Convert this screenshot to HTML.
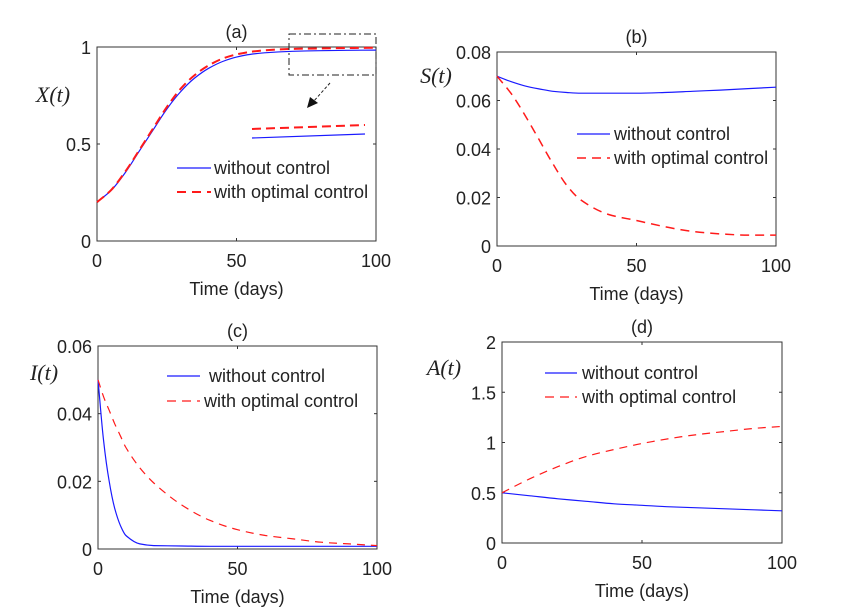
<!DOCTYPE html>
<html><head><meta charset="utf-8"><style>
html,body{margin:0;padding:0;background:#fff;}
svg{display:block;font-family:"Liberation Sans",sans-serif;}
</style></head><body>
<svg id="fig" width="846" height="608" viewBox="0 0 846 608" xmlns="http://www.w3.org/2000/svg"></svg>
<script>
const NS="http://www.w3.org/2000/svg";
// ---- data ----
const tA=[0,5,10,15,20,25,30,35,40,45,50,55,60,70,80,90,100];
const xBlue=[0.2,0.26,0.35,0.46,0.57,0.68,0.77,0.84,0.89,0.925,0.948,0.962,0.97,0.978,0.981,0.983,0.984];
const xRed=[0.2,0.262,0.355,0.465,0.578,0.69,0.785,0.855,0.905,0.94,0.962,0.975,0.983,0.99,0.993,0.995,0.996];
const tB=[0,5,10,15,20,25,30,40,50,60,70,80,90,100];
const sBlue=[0.07,0.0678,0.066,0.0648,0.0638,0.0633,0.063,0.063,0.063,0.0633,0.0638,0.0643,0.0649,0.0655];
const sRed=[0.07,0.063,0.054,0.044,0.034,0.025,0.019,0.013,0.0105,0.008,0.006,0.005,0.0045,0.0045];
const tC=[0,2,4,6,8,10,15,20,30,40,50,60,70,80,90,100];
const iBlue=[0.05,0.032,0.02,0.012,0.007,0.004,0.0015,0.001,0.0009,0.0008,0.0008,0.0008,0.0008,0.0008,0.0008,0.0008];
const iRed=[0.05,0.045,0.041,0.037,0.0335,0.030,0.024,0.0195,0.013,0.0085,0.0057,0.004,0.003,0.002,0.0015,0.001];
const tD=[0,10,20,30,40,50,60,70,80,90,100];
const aBlue=[0.5,0.47,0.44,0.415,0.39,0.375,0.36,0.35,0.34,0.33,0.32];
const aRed=[0.5,0.64,0.76,0.86,0.93,0.99,1.04,1.08,1.11,1.14,1.16];
const xTicks=[0,50,100];
const ticksA=[0,0.5,1], labA=["0","0.5","1"];
const ticksB=[0,0.02,0.04,0.06,0.08], labB=["0","0.02","0.04","0.06","0.08"];
const ticksC=[0,0.02,0.04,0.06], labC=["0","0.02","0.04","0.06"];
const ticksD=[0,0.5,1,1.5,2], labD=["0","0.5","1","1.5","2"];
const svg=document.getElementById('fig');
function el(tag,attrs,parent){const e=document.createElementNS(NS,tag);for(const k in attrs)e.setAttribute(k,attrs[k]);(parent||svg).appendChild(e);return e;}
function txt(s,x,y,attrs,parent){const e=el('text',Object.assign({x:x,y:y,'font-size':18,fill:'#222'},attrs),parent);e.textContent=s;return e;}
// monotone cubic path through pixel points
function mpath(xs,ys){
  const n=xs.length,d=[],m=[];
  for(let i=0;i<n-1;i++)d.push((ys[i+1]-ys[i])/(xs[i+1]-xs[i]));
  m[0]=d[0];m[n-1]=d[n-2];
  for(let i=1;i<n-1;i++)m[i]=(d[i-1]*d[i]<=0)?0:(3*(d[i-1]+d[i]))/((2*d[i]+d[i-1])/d[i-1]*0+ (1/d[i-1]+1/d[i])*1.5*d[i-1]*d[i]/ (d[i-1]*d[i]) *2)/3;
  for(let i=1;i<n-1;i++)m[i]=(d[i-1]*d[i]<=0)?0:2/(1/d[i-1]+1/d[i]);
  let p='M'+xs[0].toFixed(1)+' '+ys[0].toFixed(1);
  for(let i=0;i<n-1;i++){const h=xs[i+1]-xs[i];
    p+=' C'+(xs[i]+h/3).toFixed(1)+' '+(ys[i]+m[i]*h/3).toFixed(1)+' '+(xs[i+1]-h/3).toFixed(1)+' '+(ys[i+1]-m[i+1]*h/3).toFixed(1)+' '+xs[i+1].toFixed(1)+' '+ys[i+1].toFixed(1);}
  return p;
}
function panel(id,L,R,T,B,ymax,yt,yl,title,ylab,series,leg){
  const g=el('g',{});
  
  
  const sx=v=>L+(R-L)*v/100, sy=v=>B-(B-T)*v/ymax;
  const fr=el('rect',{x:L,y:T,width:R-L,height:B-T,fill:'none',stroke:'#333','stroke-width':1},g);
  
  
  xTicks.forEach(v=>{const x=sx(v);
    el('line',{x1:x,x2:x,y1:B,y2:B-3,stroke:'#333'},g);el('line',{x1:x,x2:x,y1:T,y2:T+3,stroke:'#333'},g);
    const t=txt(String(v),x,B+26,{'text-anchor':'middle'},g);
    
    });
  yt.forEach((v,i)=>{const y=sy(v);
    el('line',{x1:L,x2:L+3,y1:y,y2:y,stroke:'#333'},g);el('line',{x1:R,x2:R-3,y1:y,y2:y,stroke:'#333'},g);
    const t=txt(yl[i],L-6,y+7,{'text-anchor':'end'},g);
    
    });
  const tt=txt(title,(L+R)/2,T-9,{'text-anchor':'middle'},g);
  
  
  const xl=txt('Time (days)',(L+R)/2,B+54,{'text-anchor':'middle'},g);
  
  
  const yy=txt(ylab[0],ylab[1],ylab[2],{'text-anchor':'middle','font-family':'"Liberation Serif",serif','font-style':'italic','font-size':22},g);
  
  
  series.forEach(s=>{
    const d=mpath(s.t.map(sx),s.v.map(sy));
    const p=el('path',{d:d,fill:'none',stroke:s.c,'stroke-width':s.w,'stroke-dasharray':s.dash||'none'},g);
    
    
  });
  [['without control','#1a1aff',null,1.2],['with optimal control','#ff1a1a','9,6',leg.rw]].forEach((e,i)=>{
    const y=leg.y[i];
    const lg=el('g',{},g);
    
    
    el('line',{x1:leg.x1,x2:leg.x2,y1:y,y2:y,stroke:e[1],'stroke-width':e[3],'stroke-dasharray':e[2]||'none'},lg);
    txt(e[0],leg.tx[i],y+6,{},lg);
  });
  return {g,sx,sy};
}
const pa=panel('a',97,376,47,241,1,ticksA,labA,'(a)',['X(t)',53,102],
 [{t:tA,v:xBlue,c:'#1a1aff',w:1.2,name:'series-without-control'},{t:tA,v:xRed,c:'#ff1a1a',w:2,dash:'9,5',name:'series-optimal-control'}],
 {x1:177,x2:211,y:[168,192],tx:[214,214],rw:2});
const zb=el('rect',{x:289,y:34,width:87,height:41,fill:'none',stroke:'#222','stroke-dasharray':'7,3,2,3'},pa.g);


const ar=el('line',{x1:330,y1:83,x2:313,y2:102,stroke:'#222','stroke-dasharray':'3,2'},pa.g);


el('polygon',{points:'307,108 310,97 318,103',fill:'#111'},pa.g);
const ib=el('line',{x1:252,y1:138,x2:365,y2:134,stroke:'#1a1aff','stroke-width':1.2},pa.g);


const ir=el('line',{x1:252,y1:129,x2:365,y2:125,stroke:'#ff1a1a','stroke-width':2,'stroke-dasharray':'9,5'},pa.g);



panel('b',497,776,52,246,0.08,ticksB,labB,'(b)',['S(t)',436,83],
 [{t:tB,v:sBlue,c:'#1a1aff',w:1.2,name:'series-without-control'},{t:tB,v:sRed,c:'#ff1a1a',w:1.5,dash:'9,6',name:'series-optimal-control'}],
 {x1:577,x2:610,y:[134,158],tx:[614,614],rw:1.5});
panel('c',98,377,346,549,0.06,ticksC,labC,'(c)',['I(t)',44,380],
 [{t:tC,v:iBlue,c:'#1a1aff',w:1.2,name:'series-without-control'},{t:tC,v:iRed,c:'#ff1a1a',w:1.2,dash:'8,6',name:'series-optimal-control'}],
 {x1:167,x2:200,y:[376,401],tx:[209,204],rw:1.2});
panel('d',502,782,342,543,2,ticksD,labD,'(d)',['A(t)',444,375],
 [{t:tD,v:aBlue,c:'#1a1aff',w:1.2,name:'series-without-control'},{t:tD,v:aRed,c:'#ff1a1a',w:1.2,dash:'8,6',name:'series-optimal-control'}],
 {x1:545,x2:577,y:[373,397],tx:[582,582],rw:1.2});
</script>
</body></html>
